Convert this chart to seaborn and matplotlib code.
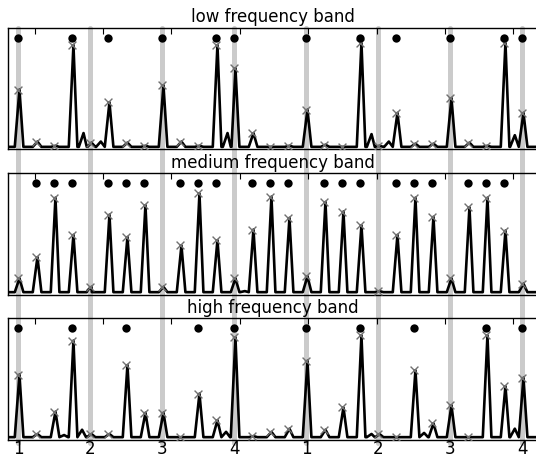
import numpy as np
import pandas as pd
import seaborn as sns
import matplotlib
matplotlib.use("Agg")
import matplotlib.pyplot as plt

# sixteenth-note grid over two bars of 4 beats
grid = np.arange(1.0, 8.01, 0.25)
beat_pos = [1, 2, 3, 4, 5, 6, 7, 8]
beat_labels = ['1', '2', '3', '4', '1', '2', '3', '4']

bands = ['low frequency band', 'medium frequency band', 'high frequency band']

# onset strength read at every grid point
low_vals = [0.55, 0.06, 0.02, 0.97, 0.05, 0.43, 0.05, 0.02, 0.59, 0.06, 0.02, 0.97, 0.75, 0.14, 0.01,
            0.02, 0.36, 0.03, 0.01, 0.99, 0.02, 0.33, 0.04, 0.04, 0.47, 0.05, 0.02, 0.99, 0.33]
med_vals = [0.14, 0.34, 0.90, 0.55, 0.06, 0.74, 0.53, 0.83, 0.06, 0.45, 0.94, 0.50, 0.14, 0.60, 0.91,
            0.71, 0.16, 0.86, 0.77, 0.64, 0.02, 0.55, 0.90, 0.72, 0.14, 0.81, 0.90, 0.59, 0.09]
high_vals = [0.60, 0.04, 0.25, 0.92, 0.04, 0.04, 0.69, 0.24, 0.24, 0.01, 0.42, 0.17, 0.95, 0.02, 0.06,
             0.09, 0.73, 0.08, 0.29, 0.97, 0.04, 0.01, 0.64, 0.14, 0.31, 0.01, 0.97, 0.49, 0.57]

# small off-grid bumps (position, height)
low_extra_pos = [1.89, 2.13, 3.89, 5.89, 6.13, 7.88]
low_extra_val = [0.14, 0.06, 0.14, 0.13, 0.06, 0.12]
med_extra_pos = [1.95, 4.13]
med_extra_val = [0.03, 0.02]
high_extra_pos = [1.62, 1.87, 3.87, 5.89, 6.62, 7.88]
high_extra_val = [0.03, 0.08, 0.06, 0.04, 0.05, 0.09]

# detected onsets (black dots)
low_onsets = [1.0, 1.75, 2.25, 3.0, 3.75, 4.0, 5.0, 5.75, 6.25, 7.0, 7.75, 8.0]
med_onsets = [1.25, 1.5, 1.75, 2.25, 2.5, 2.75, 3.25, 3.5, 3.75, 4.25, 4.5, 4.75,
              5.25, 5.5, 5.75, 6.25, 6.5, 6.75, 7.25, 7.5, 7.75]
high_onsets = [1.0, 1.75, 2.5, 3.5, 4.0, 5.0, 5.75, 6.5, 7.5, 8.0]

top_ticks = [1.24, 2.18, 3.13, 4.08, 5.03, 5.98, 6.93, 7.88]

panels = [
    (low_vals, low_extra_pos, low_extra_val, low_onsets),
    (med_vals, med_extra_pos, med_extra_val, med_onsets),
    (high_vals, high_extra_pos, high_extra_val, high_onsets),
]

floor = 0.01
xmin, xmax = 0.861, 8.222


def curve(vals, ex_pos, ex_val):
    pts = [(xmin, floor), (8.4, floor)]
    for p, h in list(zip(grid, vals)) + list(zip(ex_pos, ex_val)):
        pts += [(p - 0.045, floor), (p + 0.02, h), (p + 0.075, floor)]
    pts.sort()
    return pd.DataFrame(pts, columns=['x', 'y'])


sns.set_style("white", {"axes.edgecolor": "black", "text.color": "black",
                        "xtick.color": "black", "axes.labelcolor": "black"})

fig = plt.figure(figsize=(5.36, 4.57), dpi=100)
W, H = 536, 457
tops = [28, 173.3, 318.3]
height = 121.2

for i, (title, (vals, ex_pos, ex_val, onsets)) in enumerate(zip(bands, panels)):
    top = tops[i]
    ax = fig.add_axes([8 / W, (H - top - height) / H, 530 / W, height / H])

    for b in beat_pos:
        ax.axvline(b, ymin=(-0.2 if i < 2 else -0.03), ymax=1, color='#cbcbcb',
                   lw=3.6, clip_on=False, zorder=0)

    df = curve(vals, ex_pos, ex_val)
    sns.lineplot(data=df, x='x', y='y', ax=ax, color='black', lw=1.9,
                 estimator=None, sort=False, zorder=2)
    sns.scatterplot(x=grid, y=vals, ax=ax, marker='x', color='#707070', s=32,
                    linewidth=1, zorder=3)
    sns.scatterplot(x=onsets, y=[1.035] * len(onsets), ax=ax, color='black', s=36,
                    edgecolor='black', linewidth=0, zorder=4)

    ax.set_xlim(xmin, xmax)
    ax.set_ylim(-0.012, 1.13)
    ax.set_yticks([])
    ax.set_xlabel('')
    ax.set_ylabel('')
    ax.set_title(title, fontsize=12, pad=4, color='black')

    ax.set_xticks(top_ticks)
    ax.tick_params(axis='x', which='major', direction='in', top=True, bottom=False,
                   labelbottom=False, labeltop=False, length=4, width=0.8, color='black')
    if i == 2:
        ax.set_xticks(beat_pos, labels=beat_labels, minor=True)
        ax.tick_params(axis='x', which='minor', bottom=True, length=0, labelsize=12,
                       pad=0.5, labelcolor='black')
    for s in ax.spines.values():
        s.set_linewidth(1.0)
        s.set_color('black')

plt.savefig('out.png', dpi=100)
